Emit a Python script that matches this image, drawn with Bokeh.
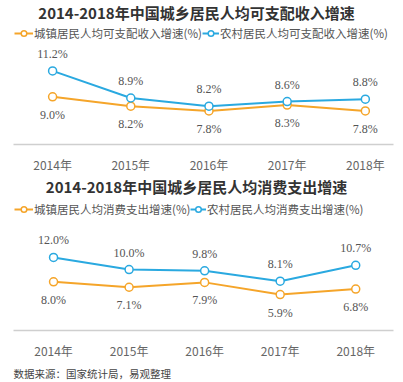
from bokeh.plotting import figure
from bokeh.models import (ColumnDataSource, LabelSet, Label, Legend, LegendItem,
                          FixedTicker, Range1d, Title)
from bokeh.layouts import column
from bokeh.embed import file_html
from bokeh.resources import INLINE

years = [2014, 2015, 2016, 2017, 2018]
year_labels = ["2014年", "2015年", "2016年", "2017年", "2018年"]

income_urban = [9.0, 8.2, 7.8, 8.3, 7.8]
income_rural = [11.2, 8.9, 8.2, 8.6, 8.8]
spend_urban = [8.0, 7.1, 7.9, 5.9, 6.8]
spend_rural = [12.0, 10.0, 9.8, 8.1, 10.7]

title1 = "2014-2018年中国城乡居民人均可支配收入增速"
title2 = "2014-2018年中国城乡居民人均消费支出增速"
leg1 = ["城镇居民人均可支配收入增速(%)", "农村居民人均可支配收入增速(%)"]
leg2 = ["城镇居民人均消费支出增速(%)", "农村居民人均消费支出增速(%)"]
source_note = "数据来源：国家统计局，易观整理"

ORANGE = "#F5A52A"
BLUE = "#2AA9E0"
FONT = "Noto Sans CJK SC"


def make_chart(title, legs, urban, rural, height, bottom, xr, yr,
               title_y, leg_y, leg1_x, leg2_x, gw2):
    p = figure(width=403, height=height, output_backend="svg", toolbar_location=None,
               x_range=Range1d(*xr), y_range=Range1d(*yr),
               min_border_left=13, min_border_right=10, min_border_top=0,
               min_border_bottom=bottom)
    p.outline_line_color = None
    p.background_fill_color = "white"
    p.border_fill_color = "white"
    p.grid.visible = False
    p.yaxis.visible = False
    ax = p.xaxis[0]
    ax.ticker = FixedTicker(ticks=years)
    ax.major_label_overrides = {y: l for y, l in zip(years, year_labels)}
    ax.axis_line_color = "#cfcfcf"
    ax.axis_line_width = 1.5
    ax.major_tick_line_color = None
    ax.minor_tick_line_color = None
    ax.major_tick_out = 0
    ax.major_tick_in = 0
    ax.major_label_standoff = 11
    ax.major_label_text_font = FONT
    ax.major_label_text_font_size = "12px"
    ax.major_label_text_color = "#666666"

    src = ColumnDataSource(dict(x=years, u=urban, r=rural,
                                ul=[f"{v:.1f}%" for v in urban],
                                rl=[f"{v:.1f}%" for v in rural]))
    lu = p.line("x", "u", source=src, line_color=ORANGE, line_width=2)
    su = p.scatter("x", "u", source=src, size=8, fill_color="white",
                   line_color=ORANGE, line_width=1.5)
    lr = p.line("x", "r", source=src, line_color=BLUE, line_width=2)
    sr = p.scatter("x", "r", source=src, size=8, fill_color="white",
                   line_color=BLUE, line_width=1.5)

    p.add_layout(LabelSet(x="x", y="u", text="ul", source=src, y_offset=-18,
                          text_align="center", text_baseline="middle",
                          text_font=FONT, text_font_size="12px", text_color="#555555"))
    p.add_layout(LabelSet(x="x", y="r", text="rl", source=src, y_offset=17,
                          text_align="center", text_baseline="middle",
                          text_font=FONT, text_font_size="12px", text_color="#555555"))

    frame_h = height - bottom
    p.add_layout(Label(x=183, y=frame_h - title_y, x_units="screen", y_units="screen",
                       text=title, text_align="center", text_baseline="middle",
                       text_font=FONT, text_font_size="15px", text_font_style="bold",
                       text_color="#333333"))

    common = dict(orientation="horizontal", glyph_height=14,
                  label_standoff=1, padding=0, margin=0, border_line_color=None,
                  background_fill_alpha=0, label_text_font=FONT,
                  label_text_font_size="11.5px", label_text_color="#555555",
                  label_height=14)
    la = Legend(items=[LegendItem(label=legs[0], renderers=[lu, su])],
                location=(leg1_x, frame_h - leg_y - 7), glyph_width=19, **common)
    lb = Legend(items=[LegendItem(label=legs[1], renderers=[lr, sr])],
                location=(leg2_x, frame_h - leg_y - 7), glyph_width=gw2, **common)
    p.add_layout(la, "center")
    p.add_layout(lb, "center")
    return p


p1 = make_chart(title1, leg1, income_urban, income_rural, 175, 31,
                (2013.5, 2018.36), (4.95, 17.18), 12, 34, 1, 189, 17)

p2 = make_chart(title2, leg2, spend_urban, spend_rural, 207, 50,
                (2013.47, 2018.5), (0, 25.45), 13, 37, 1, 177, 16)

p2.add_layout(Title(text=source_note, align="left", text_font=FONT,
                    text_font_size="10.5px", text_font_style="normal",
                    text_color="#444444", offset=0, standoff=4), "below")

layout = column(p1, p2, spacing=0)

open("out.html", "w").write(file_html(layout, INLINE))
